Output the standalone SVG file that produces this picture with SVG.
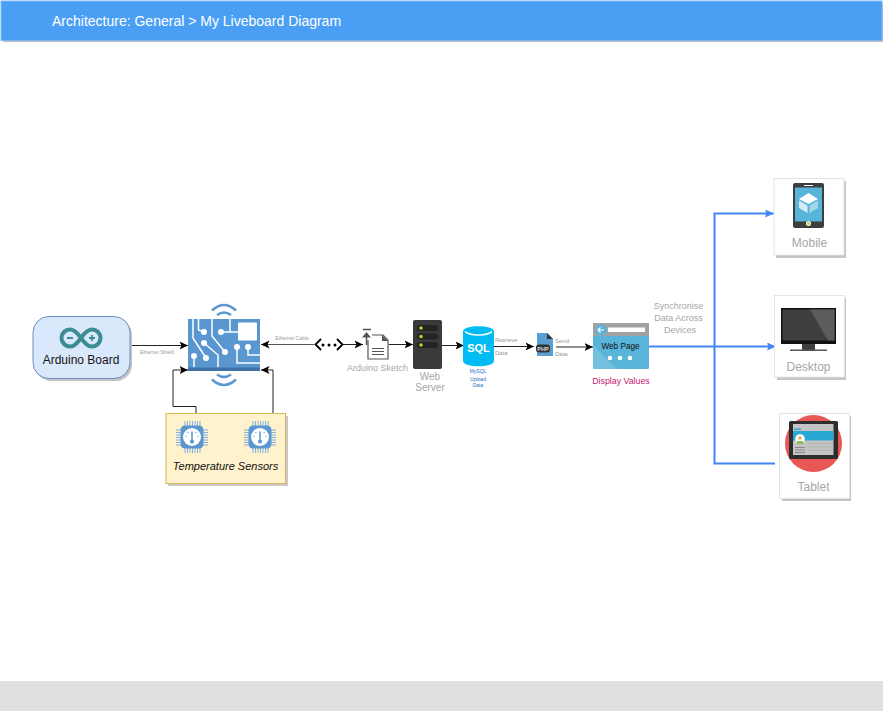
<svg xmlns="http://www.w3.org/2000/svg" width="883" height="711" viewBox="0 0 883 711">
<style>
text{font-family:"Liberation Sans",Arial,sans-serif}
.c{text-anchor:middle}
.g{fill:#a6a6a6}
.t{font-size:5px;fill:#999}
.k{fill:none;stroke:#222;stroke-width:1}
.b{fill:none;stroke:#4285f4;stroke-width:2}
.card{fill:#fff;stroke:#e4e4e4;stroke-width:1}
.sh{fill:#c4c4c4}
.w{fill:none;stroke:#fff;stroke-width:1.500}
.wf{fill:#fff}
.pb{fill:#5a97d1}
</style>
<defs>
<marker id="a" markerWidth="10" markerHeight="9" refX="8.500" refY="4.500" orient="auto" markerUnits="userSpaceOnUse"><path d="M0 0.500L8.500 4.500L0 8.500L2 4.500Z" fill="#000"/></marker>
<marker id="ab" markerWidth="10" markerHeight="8" refX="9" refY="4" orient="auto" markerUnits="userSpaceOnUse"><path d="M0 0L9 4L0 8L1.500 4Z" fill="#4285f4"/></marker>
<symbol id="chip" viewBox="0 0 32 32" overflow="visible">
<path d="M0 9H5M0 11.500H5M0 14H5M0 16.500H5M0 19H5M0 21.500H5M0 24H5M27 9H32M27 11.500H32M27 14H32M27 16.500H32M27 19H32M27 21.500H32M27 24H32M9 0V5M11.500 0V5M14 0V5M16.500 0V5M19 0V5M21.500 0V5M24 0V5M9 27V32M11.500 27V32M14 27V32M16.500 27V32M19 27V32M21.500 27V32M24 27V32" stroke="#7fb0de" stroke-width="1" fill="none"/>
<rect x="4.500" y="4.500" width="23" height="23" rx="4.500" fill="#5a97d1"/>
<circle cx="16" cy="16" r="9" fill="#fff"/>
<path d="M16 10.500V20" stroke="#5a97d1" stroke-width="1.500"/><circle cx="16" cy="20.500" r="2" fill="#5a97d1"/>
<path d="M9.500 15L10.500 15.300M11.500 11L12.300 12M20.500 11L19.700 12M22.500 15L21.500 15.300" stroke="#5a97d1" stroke-width="1.100"/>
</symbol>
</defs>

<g id="header">
<rect x="3" y="3" width="880" height="39" fill="#bdbdbd"/>
<rect x="1" y="1" width="881" height="39.500" fill="#4a9ff5" stroke="#7db8f5" stroke-width="1"/>
<text x="52" y="26" font-size="14" fill="#fff">Architecture: General &gt; My Liveboard Diagram</text>
</g>
<g id="footer"><rect x="0" y="681" width="883" height="30" fill="#e0e0e0"/></g>

<g id="connectors">
<path class="k" d="M130 345.500H188" marker-end="url(#a)"/>
<path class="k" d="M314 344.500H261" marker-end="url(#a)" style="stroke:#555"/>
<path class="k" d="M196 413V406.500H173V370H188" marker-end="url(#a)"/>
<path class="k" d="M273 413V370H261" marker-end="url(#a)"/>
<path class="k" d="M343 344.500H363" marker-end="url(#a)"/>
<path class="k" d="M389 344.500H413" marker-end="url(#a)"/>
<path class="k" d="M442 345.500H464" marker-end="url(#a)"/>
<path class="k" d="M493 346.500H534" marker-end="url(#a)"/>
<path class="k" d="M556 347H593" marker-end="url(#a)"/>
<path class="b" d="M649 346.500H776" marker-end="url(#ab)"/>
<path class="b" d="M714.500 346.500V213.500H774" marker-end="url(#ab)"/>
<path class="b" d="M714.500 346.500V463.500H775"/>
</g>

<g id="lbl-shield"><text class="t c" x="157" y="354">Ethernet Shield</text></g>
<g id="lbl-cable"><text class="t c" x="292" y="340">Ethernet Cable</text></g>

<g id="arduino-board">
<rect x="35" y="319" width="97" height="62" rx="16" fill="#c4c4c4"/>
<rect x="33" y="316.500" width="97" height="62" rx="16" fill="#dae8fc" stroke="#6c8ebf" stroke-width="1"/>
<path d="M70 329.500c5.500 0 8 5 11 8.500c3 -3.500 5.500 -8.500 11 -8.500a8.500 8.500 0 0 1 0 17c-5.500 0 -8 -5 -11 -8.500c-3 3.500 -5.500 8.500 -11 8.500a8.500 8.500 0 0 1 0 -17z" fill="none" stroke="#3c8d93" stroke-width="4"/>
<path d="M67 338H73M89 338H95M92 335V341" stroke="#3c8d93" stroke-width="1.800"/>
<text class="c" x="81" y="364" font-size="12" fill="#111">Arduino Board</text>
</g>

<g id="circuit-board">
<rect x="188" y="319" width="72" height="52" class="pb"/>
<rect x="188" y="367.500" width="72" height="3.500" fill="#3f72a6"/>
<rect x="238" y="322.500" width="19" height="18" rx="1" fill="#fff"/>
<path class="w" d="M193 319V338L206 358M198.500 319V330L204 332M204 343L218 355V367M194 356V367M212 319V336L225 352M221 332H238M230 319V332M237 347V363H260M248 347V355H260"/>
<g class="wf"><circle cx="204" cy="332" r="3"/><circle cx="204" cy="343" r="3"/><circle cx="206" cy="358" r="3"/><circle cx="194" cy="356" r="3"/><circle cx="221" cy="332" r="3"/><circle cx="225" cy="352" r="3"/><circle cx="237" cy="347" r="3"/><circle cx="248" cy="347" r="3"/></g>
<path d="M212 310.500Q224 299.500 236 310.500M217 315Q224 310 231 315" fill="none" stroke="#5a97d1" stroke-width="2.500"/>
<path d="M217 374.500Q224 379.500 231 374.500M212 379.500Q224 390.500 236 379.500" fill="none" stroke="#5a97d1" stroke-width="2.500"/>
</g>

<g id="temperature-sensors">
<rect x="168" y="416" width="120" height="70" fill="#c9c9c9"/>
<rect x="166" y="413.500" width="119.500" height="70" fill="#fff2cc" stroke="#d6b656" stroke-width="1"/>
<use href="#chip" x="176" y="421" width="32" height="32"/>
<use href="#chip" x="244" y="421" width="32" height="32"/>
<text class="c" x="225.500" y="470" font-size="11" font-style="italic" fill="#111">Temperature Sensors</text>
</g>

<g id="link-dots">
<path d="M321 339L315.500 344.500L321 350M337 339L342.500 344.500L337 350" fill="none" stroke="#000" stroke-width="1.800"/>
<circle cx="323" cy="345" r="1.500"/><circle cx="329" cy="345" r="1.500"/><circle cx="335" cy="345" r="1.500"/>
</g>

<g id="arduino-sketch">
<path d="M368 340V359H388V340L383 335H372" fill="#fff" stroke="#555" stroke-width="1.200"/>
<path d="M382 335V341H388Z" fill="#555"/>
<path d="M372 348.500H384M372 351.500H384M372 354.500H384" stroke="#555" stroke-width="1"/>
<path d="M363 329.500H371M366.500 345V334" stroke="#555" stroke-width="1.500"/>
<path d="M362 337.500L366.500 332L371 337.500Z" fill="#555"/>
<text class="c g" x="377.500" y="371" font-size="9">Arduino Sketch</text>
</g>

<g id="web-server">
<rect x="413" y="320" width="29" height="49" rx="2" fill="#3a3a3a"/>
<rect x="417" y="325" width="21" height="6" rx="3" fill="#232323"/><rect x="417" y="333.500" width="21" height="6" rx="3" fill="#232323"/><rect x="417" y="342" width="21" height="6" rx="3" fill="#232323"/>
<circle cx="421" cy="328" r="1.800" fill="#bcd031"/><circle cx="421" cy="336.500" r="1.800" fill="#bcd031"/><circle cx="421" cy="345" r="1.800" fill="#bcd031"/>
<text class="c g" x="430" y="380" font-size="10">Web</text>
<text class="c g" x="430" y="391" font-size="10">Server</text>
</g>

<g id="mysql">
<path d="M463 331.500C463 324.500 494 324.500 494 331.500V361C494 368 463 368 463 361Z" fill="#00bcf2"/>
<path d="M465 331.500C469 336 488 336 492 331.500" fill="none" stroke="#fff" stroke-width="1.500"/>
<text class="c" x="478.500" y="352" font-size="11" font-weight="bold" fill="#fff">SQL</text>
<text class="c" x="478" y="373" font-size="5" fill="#1b6fc2">MySQL</text>
<text class="c" x="478" y="381" font-size="5" fill="#1b6fc2">Upload</text>
<text class="c" x="478" y="387" font-size="5" fill="#1b6fc2">Data</text>
</g>
<g id="lbl-retrieve"><text x="495" y="342" font-size="6" fill="#999">Retrieve</text><text x="495" y="355" font-size="6" fill="#999">Data</text></g>

<g id="php">
<path d="M537 333H547L553 339V356H537Z" fill="#5a9fd4"/>
<path d="M547 333L553 339H547Z" fill="#333"/>
<rect x="536" y="344.500" width="14" height="8" rx="3" fill="#333"/>
<text class="c" x="543" y="350.500" font-size="5.500" font-weight="bold" fill="#ddd">PHP</text>
</g>
<g id="lbl-send"><text x="555" y="343" font-size="6" fill="#999">Send</text><text x="555" y="356" font-size="6" fill="#999">Data</text></g>

<g id="web-page">
<rect x="593" y="323" width="56" height="46" rx="1.500" fill="#59b4d9"/>
<path d="M593 369V345L617 369Z" fill="#7fc4e0" opacity=".7"/>
<rect x="593" y="323" width="56" height="13" fill="#a0a1a2"/>
<circle cx="601" cy="330" r="5.500" fill="#59b4d9"/>
<path d="M604 330H598M600.500 327.500L598 330L600.500 332.500" fill="none" stroke="#fff" stroke-width="1.200"/>
<rect x="608" y="327.500" width="37" height="4.500" fill="#fff"/>
<text class="c" x="620.500" y="349" font-size="8.200" fill="#111">Web Page</text>
<circle cx="610" cy="358" r="2.300" fill="#fff"/><circle cx="620" cy="358" r="2.300" fill="#fff"/><circle cx="630" cy="358" r="2.300" fill="#fff"/>
<text class="c" x="621" y="384" font-size="8.800" fill="#c7166f">Display Values</text>
</g>
<g id="lbl-sync">
<text class="c g" x="678.500" y="309" font-size="9">Synchronise</text>
<text class="c g" x="678.500" y="321" font-size="9">Data Across</text>
<text class="c g" x="680" y="333" font-size="9">Devices</text>
</g>

<g id="mobile">
<rect class="sh" x="776" y="181" width="70" height="77"/>
<rect class="card" x="774" y="178.500" width="70" height="76.500"/>
<rect x="793" y="183" width="31" height="45" rx="2" fill="#3e3e3e"/>
<rect x="795" y="187.500" width="27" height="34" fill="#59b4d9"/>
<rect x="804" y="185" width="9" height="1" fill="#fff"/>
<path d="M799 199L808.500 193L818 199L808.500 204Z" fill="#fff"/>
<path d="M799 200.500L807.500 205.500V213L799 208Z" fill="#d4ebf4"/><path d="M818 200.500L809.500 205.500V213L818 208Z" fill="#a5d6ea"/>
<circle cx="808.500" cy="223.500" r="2.500" fill="#fff"/><circle cx="808.500" cy="223.500" r="1.500" fill="#bcd031"/>
<text class="c g" x="809.500" y="247" font-size="12">Mobile</text>
</g>

<g id="desktop">
<rect class="sh" x="777" y="298" width="69" height="82"/>
<rect class="card" x="774.500" y="295.500" width="70" height="81.500"/>
<rect x="781" y="308" width="55" height="36" fill="#111"/>
<rect x="782.500" y="309.500" width="52" height="31" fill="#3f3f3f"/>
<path d="M810 309.500H834.500V340.500H828Z" fill="#5c5c5c"/>
<rect x="802" y="344" width="13" height="6" fill="#3f3f3f"/>
<rect x="790" y="349.500" width="37" height="1.500" fill="#555"/>
<text class="c g" x="808.500" y="371" font-size="12">Desktop</text>
</g>

<g id="tablet">
<rect class="sh" x="782" y="416" width="69" height="85"/>
<rect class="card" x="779.500" y="413.500" width="70" height="85"/>
<circle cx="813.500" cy="443.500" r="28.500" fill="#e85656"/>
<rect x="789" y="421" width="49" height="38" rx="1.500" fill="#2d2d2d"/>
<rect x="793" y="424" width="40.500" height="31" fill="#c4c4c4"/>
<rect x="794" y="428.500" width="7" height="1.500" fill="#2aa8d4"/>
<rect x="793" y="431" width="40.500" height="9.500" fill="#2aa8d4"/>
<circle cx="800" cy="439" r="4.800" fill="#fff"/>
<circle cx="800" cy="438" r="1.800" fill="#e3b23c"/><path d="M797 443Q800 439 803 443Z" fill="#8cc152"/><rect x="797" y="441" width="6" height="3" fill="#8cc152"/>
<path d="M795 447.500H805M795 450H805M795 452.500H805" stroke="#888" stroke-width="1"/>
<path d="M808 443.500H832M808 447H832M808 450.500H832" stroke="#b5b5b5" stroke-width="1"/>
<text class="c g" x="813.500" y="491" font-size="12">Tablet</text>
</g>
</svg>
